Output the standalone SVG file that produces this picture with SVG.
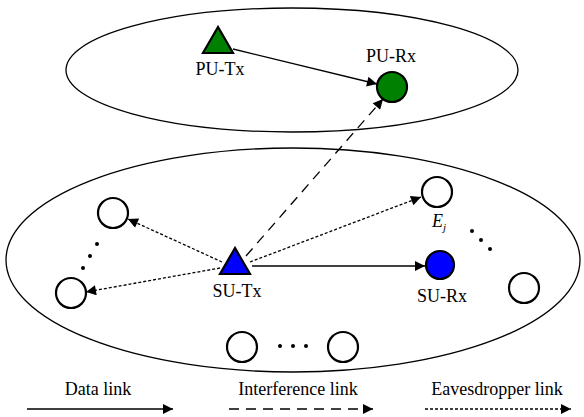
<svg xmlns="http://www.w3.org/2000/svg" width="584" height="417" viewBox="0 0 584 417">
<style>
  text { font-family: "Liberation Serif", "Times New Roman", serif; font-size: 18px; fill: #000; text-anchor: middle; }
  .region { fill: none; stroke: #000; stroke-width: 1.3; }
  .node { stroke: #000; stroke-width: 2.2; }
  .empty { fill: #fff; }
  .link { fill: none; stroke: #000; stroke-width: 1.3; }
  .data { marker-end: url(#arrow); }
  .intf { stroke-dasharray: 10 7; marker-end: url(#arrow); }
  .eave { stroke-dasharray: 3 2; marker-end: url(#arrow); }
  .dot { fill: #000; }
</style>
<defs>
  <marker id="arrow" viewBox="0 0 10 10" refX="10" refY="5" markerWidth="15" markerHeight="10" markerUnits="userSpaceOnUse" orient="auto">
    <path d="M0,0 L10,5 L0,10 z" fill="#000"/>
  </marker>
</defs>
<rect width="584" height="417" fill="#fff"/>

<!-- network regions -->
<g id="primary-region"><ellipse class="region" cx="292" cy="70" rx="226" ry="62"/></g>
<g id="secondary-region"><ellipse class="region" cx="293" cy="260" rx="287" ry="112"/></g>

<!-- links -->
<g id="connectors">
  <line class="link data" x1="233" y1="49" x2="377" y2="84"/>
  <line class="link intf" x1="246" y1="256" x2="383" y2="99"/>
  <line class="link eave" x1="250" y1="262" x2="421" y2="197"/>
  <line class="link eave" x1="222" y1="262" x2="128" y2="219"/>
  <line class="link eave" x1="220" y1="268" x2="86" y2="292"/>
  <line class="link data" x1="252" y1="266" x2="425" y2="266"/>
</g>

<!-- primary users -->
<g id="pu-tx">
  <polygon class="node" points="218,27 203,53 233,53" fill="#008000"/>
  <text x="220" y="75">PU-Tx</text>
</g>
<g id="pu-rx">
  <circle class="node" cx="392" cy="87" r="15" fill="#008000"/>
  <text x="391" y="62">PU-Rx</text>
</g>

<!-- secondary users -->
<g id="su-tx">
  <polygon class="node" points="235,248 220,274 250,274" fill="#0000ff"/>
  <text x="237" y="297">SU-Tx</text>
</g>
<g id="su-rx">
  <circle class="node" cx="440" cy="265" r="14" fill="#0000ff"/>
  <text x="442" y="302">SU-Rx</text>
</g>
<g id="eavesdropper-j">
  <circle class="node empty" cx="437" cy="192" r="15"/>
  <text x="439" y="227" font-style="italic">E<tspan font-size="11" dy="4">j</tspan></text>
</g>
<g id="node-left-top"><circle class="node empty" cx="113" cy="213" r="15"/></g>
<g id="node-left-bottom"><circle class="node empty" cx="71" cy="293" r="15"/></g>
<g id="node-right-bottom"><circle class="node empty" cx="524" cy="288" r="15"/></g>
<g id="node-bottom-left"><circle class="node empty" cx="242" cy="347" r="15"/></g>
<g id="node-bottom-right"><circle class="node empty" cx="343" cy="347" r="15"/></g>

<!-- ellipsis dots -->
<g id="ellipses">
  <circle class="dot" cx="97" cy="244" r="2"/>
  <circle class="dot" cx="90" cy="256" r="2"/>
  <circle class="dot" cx="83" cy="268" r="2"/>
  <circle class="dot" cx="472" cy="231" r="2"/>
  <circle class="dot" cx="481" cy="240" r="2"/>
  <circle class="dot" cx="490" cy="249" r="2"/>
  <circle class="dot" cx="280" cy="346" r="2"/>
  <circle class="dot" cx="293" cy="346" r="2"/>
  <circle class="dot" cx="306" cy="346" r="2"/>
</g>

<!-- legend -->
<g id="legend">
  <text x="98" y="395">Data link</text>
  <line class="link data" x1="27" y1="409" x2="173" y2="409"/>
  <text x="298" y="395">Interference link</text>
  <line class="link intf" x1="229" y1="409" x2="373" y2="409"/>
  <text x="497" y="395">Eavesdropper link</text>
  <line class="link eave" x1="425" y1="409" x2="571" y2="409"/>
</g>
</svg>
